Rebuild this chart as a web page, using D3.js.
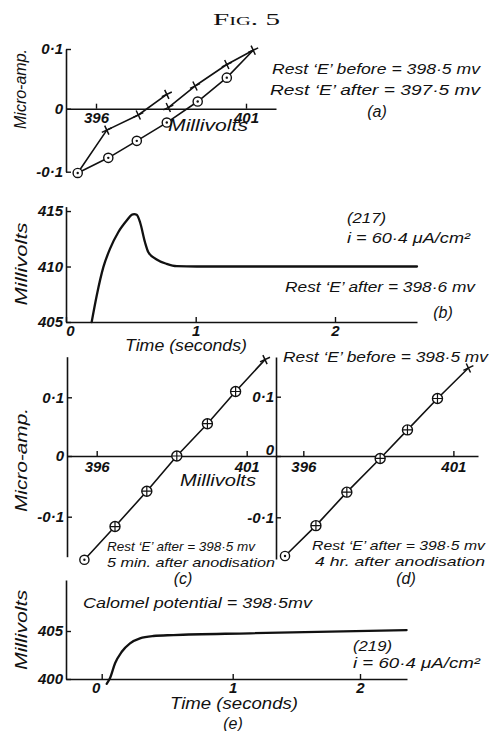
<!DOCTYPE html>
<html><head><meta charset="utf-8">
<script src="https://cdn.jsdelivr.net/npm/d3@7"></script>
<style>
body{margin:0;background:#fff}
svg{display:block;background:#fff}
text{font-family:"Liberation Sans",Arial,sans-serif;font-style:italic;fill:#111}
</style></head><body>
<svg id="fig" width="492" height="731"></svg>
<script>
// ---------- DATA ----------
// (a) current vs potential, circles (forward) and crosses (return, two segments)
const aCircleMV = [395.39, 396.41, 397.36, 398.36, 399.39, 400.36, 401.24];
const aCircleUA = [-0.102, -0.078, -0.051, -0.022, 0.012, 0.052, 0.098];
const aCross1MV = [395.39, 396.36, 397.41, 398.36];
const aCross1UA = [-0.102, -0.034, -0.010, 0.024];
const aCross2MV = [398.41, 399.30, 400.36, 401.24];
const aCross2UA = [0.002, 0.038, 0.074, 0.098];
const aYTicks = [-0.1, 0, 0.1];
const aXTicks = [396, 401];
// (b) potential transient
const bTime = [0.198, 0.237, 0.288, 0.339, 0.403, 0.468, 0.507, 0.526, 0.545, 0.571, 0.609, 0.635, 0.699, 0.776, 0.854, 1.007, 1.5, 2.0, 2.59];
const bMV   = [405.0, 407.39, 409.94, 411.59, 413.09, 414.14, 414.66, 414.72, 414.66, 413.99, 412.19, 411.29, 410.63, 410.24, 410.03, 410.0, 410.0, 410.0, 410.0];
const bYTicks = [405, 410, 415];
const bXTicks = [0, 1, 2];
// (c) 5 min after anodisation
const cMV = [395.59, 396.61, 397.67, 398.67, 399.69, 400.63, 401.61];
const cUA = [-0.170, -0.116, -0.058, 0.0, 0.055, 0.110, 0.165];
// (d) 4 hr after anodisation
const dMV = [395.39, 396.42, 397.45, 398.56, 399.47, 400.47, 401.50];
const dUA = [-0.165, -0.114, -0.059, -0.004, 0.044, 0.097, 0.147];
const cdYTicks = [-0.1, 0, 0.1];
const cdXTicks = [396, 401];
// (e) potential transient
const eTime = [0.038, 0.063, 0.102, 0.153, 0.216, 0.292, 0.394, 0.547, 1.136, 2.367];
const eMV   = [399.5, 400.07, 401.64, 402.84, 403.72, 404.24, 404.48, 404.58, 404.76, 405.1];
const eYTicks = [400, 405];
const eXTicks = [0, 1, 2];

// ---------- DRAWING ----------
const ink = "#111";
const svg = d3.select("#fig");

function fmt(d){ if (d === 0) return "0"; return (d < 0 ? "-" : "") + String(Math.abs(d)).replace(".", "·"); }

function styleAxis(g){
  g.attr("font-size", null).attr("font-family", null);
  g.select(".domain").attr("stroke", ink).attr("stroke-width", 1.6);
  g.selectAll(".tick line").attr("stroke", ink).attr("stroke-width", 1.4);
  g.selectAll(".tick text").attr("fill", ink)
    .style("font-size", "15px").style("font-weight", "bold").style("font-style", "italic");
  return g;
}
function leftAxis(scale, ticks, x, pad){
  return styleAxis(svg.append("g").attr("transform", `translate(${x},0)`)
    .call(d3.axisLeft(scale).tickValues(ticks).tickFormat(fmt).tickSizeInner(-5).tickSizeOuter(0).tickPadding(pad)));
}
function bottomAxis(scale, ticks, y, pad){
  return styleAxis(svg.append("g").attr("transform", `translate(0,${y})`)
    .call(d3.axisBottom(scale).tickValues(ticks).tickFormat(fmt).tickSizeInner(-5).tickSizeOuter(0).tickPadding(pad)));
}
function txt(x, y, s, o = {}){
  const t = svg.append("text").attr("x", x).attr("y", y).text(s)
    .style("font-size", (o.size || 15) + "px")
    .attr("text-anchor", o.anchor || "start");
  if (o.len) t.attr("textLength", o.len).attr("lengthAdjust", "spacingAndGlyphs");
  if (o.weight) t.style("font-weight", o.weight);
  return t;
}
function vtxt(x, y, s, len, size){
  return svg.append("text").attr("transform", `translate(${x},${y}) rotate(-90)`)
    .attr("text-anchor", "middle").text(s).style("font-size", (size || 16) + "px")
    .attr("textLength", len).attr("lengthAdjust", "spacingAndGlyphs");
}
function circleDot(x, y){
  svg.append("circle").attr("cx", x).attr("cy", y).attr("r", 4.6).attr("fill", "#fff").attr("stroke", ink).attr("stroke-width", 1.4);
  svg.append("circle").attr("cx", x).attr("cy", y).attr("r", 1.2).attr("fill", ink);
}
function circlePlus(x, y){
  svg.append("circle").attr("cx", x).attr("cy", y).attr("r", 5).attr("fill", "#fff").attr("stroke", ink).attr("stroke-width", 1.4);
  svg.append("path").attr("d", `M${x-5},${y}H${x+5}M${x},${y-5}V${y+5}`).attr("stroke", ink).attr("stroke-width", 1.2);
}
function cross(x, y){
  svg.append("path").attr("transform", `translate(${x},${y}) rotate(-25)`)
    .attr("d", "M-5.5,0H5.5M0,-5V5").attr("stroke", ink).attr("stroke-width", 1.5).attr("fill", "none");
}
function polyline(xs, ys, sx, sy, w, curve){
  const pts = xs.map((v, i) => [v, ys[i]]);
  const ln = d3.line().x(d => sx(d[0])).y(d => sy(d[1]));
  if (curve) ln.curve(curve);
  svg.append("path").attr("d", ln(pts)).attr("fill", "none").attr("stroke", ink)
    .attr("stroke-width", w).attr("stroke-linejoin", "round").attr("stroke-linecap", "round");
}

// Title
svg.append("text").attr("x", 213).attr("y", 25).text("Fig. 5")
  .style("font-family", "'Liberation Serif',serif").style("font-style", "normal")
  .style("font-variant", "small-caps").style("font-size", "17px")
  .attr("textLength", 67).attr("lengthAdjust", "spacingAndGlyphs");

// ----- (a) -----
const xA = d3.scaleLinear().domain([395, 402]).range([66, 276]);
const yA = d3.scaleLinear().domain([-0.1, 0, 0.1]).range([171.7, 108.7, 49]);
leftAxis(yA, aYTicks, 66, 3);
bottomAxis(xA, aXTicks, yA(0), 4);
polyline(aCircleMV, aCircleUA, xA, yA, 1.6);
polyline(aCross1MV, aCross1UA, xA, yA, 1.6);
polyline(aCross2MV, aCross2UA, xA, yA, 1.6);
aCircleMV.forEach((v, i) => { if (i < aCircleMV.length - 1) circleDot(xA(v), yA(aCircleUA[i])); });
aCross1MV.forEach((v, i) => { if (i > 0) cross(xA(v), yA(aCross1UA[i])); });
aCross2MV.forEach((v, i) => cross(xA(v), yA(aCross2UA[i])));
vtxt(26, 89, "Micro-amp.", 80, 16);
txt(168, 131, "Millivolts", {len: 80, size: 16});
txt(272, 74, "Rest ‘E’ before = 398·5 mv", {len: 208});
txt(270, 95, "Rest ‘E’ after  = 397·5 mv", {len: 210});
txt(377, 117, "(a)", {anchor: "middle", size: 16});

// ----- (b) -----
const xB = d3.scaleLinear().domain([0, 1, 2, 2.59]).range([66, 195.7, 335, 417]);
const yB = d3.scaleLinear().domain([405, 415.4]).range([322, 206.6]);
leftAxis(yB, bYTicks, 66, 3);
bottomAxis(xB, bXTicks, yB(405), 3)
  .selectAll(".tick text").attr("dx", d => d === 0 ? 4 : 0);
polyline(bTime, bMV, xB, yB, 2.3, d3.curveMonotoneX);
vtxt(27, 264, "Millivolts", 83, 16);
txt(125, 351, "Time (seconds)", {len: 122, size: 16});
txt(347, 223, "(217)", {size: 14, len: 39});
txt(347, 243, "i = 60·4 μA/cm²", {len: 123, size: 14});
txt(285, 292, "Rest ‘E’ after = 398·6 mv", {len: 190});
txt(443, 318, "(b)", {anchor: "middle", size: 16});

// ----- (c) -----
const xC = d3.scaleLinear().domain([395, 402]).range([66.7, 276.7]);
const yC = d3.scaleLinear().domain([-0.165, -0.1, 0, 0.1, 0.17]).range([556.7, 516.7, 456, 397.3, 356.7]);
leftAxis(yC, cdYTicks, 67, 3);
bottomAxis(xC, cdXTicks, yC(0), 5);
polyline(cMV, cUA, xC, yC, 1.6);
cMV.forEach((v, i) => {
  const x = xC(v), y = yC(cUA[i]);
  if (i === 0) circleDot(x, y); else if (i === cMV.length - 1) cross(x, y); else circlePlus(x, y);
});
vtxt(27, 460, "Micro-amp.", 104, 17);
txt(180, 486, "Millivolts", {len: 76, size: 16});
txt(107, 551, "Rest ‘E’ after = 398·5 mv", {len: 148, size: 13});
txt(107, 567, "5 min. after anodisation", {len: 168, size: 13});
txt(183, 584, "(c)", {anchor: "middle", size: 16});

// ----- (d) -----
const xD = d3.scaleLinear().domain([395.09, 401.82]).range([276, 478]);
const yD = d3.scaleLinear().domain([-0.17, -0.1, 0, 0.1, 0.165]).range([559, 517.3, 456, 396.7, 357]);
leftAxis(yD, cdYTicks, 276, 2)
  .selectAll(".tick text").attr("dy", d => d === 0 ? "-0.1em" : "0.32em");
bottomAxis(xD, cdXTicks, yD(0), 5);
polyline(dMV, dUA, xD, yD, 1.6);
dMV.forEach((v, i) => {
  const x = xD(v), y = yD(dUA[i]);
  if (i === 0) circleDot(x, y); else if (i === dMV.length - 1) cross(x, y); else circlePlus(x, y);
});
txt(283, 362, "Rest ‘E’ before = 398·5 mv", {len: 205});
txt(312, 550, "Rest ‘E’ after = 398·5 mv", {len: 173, size: 13});
txt(315, 566, "4 hr. after anodisation", {len: 170, size: 13});
txt(406, 584, "(d)", {anchor: "middle", size: 16});

// ----- (e) -----
const xE = d3.scaleLinear().domain([-0.27, 0, 1, 2, 2.37]).range([66, 101.7, 232.7, 360, 407]);
const yE = d3.scaleLinear().domain([400, 405, 410.3]).range([679, 631, 580]);
leftAxis(yE, eYTicks, 66, 3);
bottomAxis(xE, eXTicks, yE(400), 3)
  .selectAll(".tick text").attr("dx", d => d === 0 ? -6 : 0);
polyline(eTime, eMV, xE, yE, 2.3, d3.curveMonotoneX);
vtxt(27, 630, "Millivolts", 80, 16);
txt(83, 608, "Calomel potential = 398·5mv", {len: 229});
txt(353, 651, "(219)", {size: 14, len: 39});
txt(353, 668, "i = 60·4 μA/cm²", {len: 127, size: 14});
txt(170, 709, "Time (seconds)", {len: 128, size: 16});
txt(233, 729, "(e)", {anchor: "middle", size: 16});
</script></body></html>
